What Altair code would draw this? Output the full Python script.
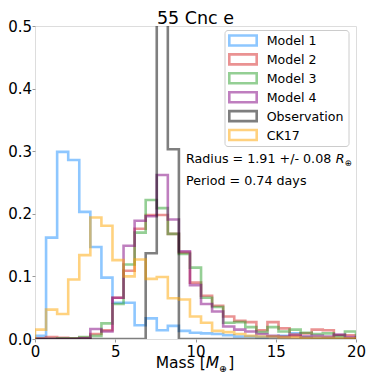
import numpy as np
import pandas as pd
import altair as alt

# ---- data (density per bin, 29 bins on 0..20) ----
bin_edges = list(np.linspace(0, 20, 30))

series_names = ["Model 1", "Model 2", "Model 3", "Model 4", "Observation", "CK17"]
series_colors = ["dodgerblue", "#d62728", "#2ca02c", "purple", "black", "orange"]

model1 = [0.005, 0.162, 0.299, 0.286, 0.203, 0.147, 0.098, 0.058, 0.058, 0.022,
          0.033, 0.014, 0.021, 0.013, 0.010, 0.009, 0.008, 0.006, 0.004, 0.004,
          0.003, 0.004, 0.005, 0.009, 0.003, 0.002, 0.002, 0.001, 0.001]
model2 = [0.001, 0.003, 0.002, 0.001, 0.002, 0.008, 0.014, 0.066, 0.109, 0.176,
          0.198, 0.198, 0.168, 0.138, 0.090, 0.069, 0.053, 0.036, 0.029, 0.027,
          0.014, 0.027, 0.017, 0.007, 0.009, 0.015, 0.014, 0.006, 0.006]
model3 = [0.000, 0.000, 0.001, 0.001, 0.003, 0.005, 0.025, 0.056, 0.119, 0.170,
          0.222, 0.209, 0.168, 0.136, 0.114, 0.066, 0.051, 0.026, 0.027, 0.019,
          0.011, 0.019, 0.012, 0.015, 0.010, 0.008, 0.009, 0.005, 0.012]
model4 = [0.000, 0.000, 0.000, 0.000, 0.001, 0.016, 0.012, 0.066, 0.149, 0.189,
          0.196, 0.262, 0.191, 0.140, 0.086, 0.056, 0.044, 0.020, 0.015, 0.012,
          0.008, 0.005, 0.004, 0.005, 0.004, 0.005, 0.004, 0.007, 0.003]
observation = [0.0, 0.0, 0.0, 0.0, 0.0, 0.0, 0.0, 0.0, 0.0, 0.0,
               0.137, 0.85, 0.303, 0.0, 0.0, 0.0, 0.0, 0.0, 0.0, 0.0,
               0.0, 0.0, 0.0, 0.0, 0.0, 0.0, 0.0, 0.0, 0.0]
ck17 = [0.015, 0.047, 0.040, 0.095, 0.134, 0.194, 0.181, 0.126, 0.100, 0.127,
        0.096, 0.099, 0.065, 0.063, 0.036, 0.026, 0.013, 0.011, 0.008, 0.005,
        0.004, 0.004, 0.003, 0.003, 0.002, 0.002, 0.002, 0.001, 0.001]

x_ticks = [0, 5, 10, 15, 20]
y_ticks = [0.0, 0.1, 0.2, 0.3, 0.4, 0.5]

title_text = "55 Cnc e"
radius_text = "Radius = 1.91 +/- 0.08 "
period_text = "Period = 0.74 days"
xlabel_text = "Mass ["

# ---- build step outlines (matplotlib histtype='step') ----
rows = []
for name, vals in zip(series_names, [model1, model2, model3, model4, observation, ck17]):
    xs = [bin_edges[0]] + bin_edges[:-1] + [bin_edges[-1], bin_edges[-1]]
    ys = [0.0] + vals + [vals[-1], 0.0]
    for i, (xv, yv) in enumerate(zip(xs, ys)):
        rows.append({"series": name, "mass": xv, "density": yv, "step": i})
df = pd.DataFrame(rows)

FONT = "DejaVu Sans"
W, H = 321, 313
OX, OY = 35, 26  # page position of the plot origin
color_scale = alt.Scale(domain=series_names, range=series_colors)

lines = alt.Chart(df).mark_line(interpolate="step-after", clip=True, strokeWidth=2.6).encode(
    x=alt.X("mass:Q", scale=alt.Scale(domain=[0, 20], nice=False),
            axis=alt.Axis(values=x_ticks, format="d", labelFontSize=15, labelFont=FONT,
                          labelColor="black", tickSize=3, tickColor="#999999",
                          tickWidth=1, domain=False, grid=False, labelPadding=2,
                          labelFlush=False, title=None)),
    y=alt.Y("density:Q", scale=alt.Scale(domain=[0, 0.5], nice=False),
            axis=alt.Axis(values=y_ticks, format=".1f", labelFontSize=15, labelFont=FONT,
                          labelColor="black", tickSize=3, tickColor="#999999",
                          tickWidth=1, domain=False, grid=False, labelPadding=0.5,
                          labelFlush=False, title=None)),
    color=alt.Color("series:N", scale=color_scale, legend=None),
    detail="series:N",
    order=alt.Order("step:Q"),
    opacity=alt.value(0.5),
)

# ---- legend (drawn from the series list) ----
LX0, LX1, LY0, LY1 = 190, 314, 4.5, 120.5
legend_df = pd.DataFrame({"series": series_names})
row_scale = alt.Scale(domain=series_names, range=[LY0 + 10, LY0 + 104.5], padding=0)

frame = alt.Chart(pd.DataFrame({"k": [0]})).mark_rect(
    cornerRadius=3, fill="white", fillOpacity=0.8, stroke="#cccccc", strokeWidth=1
).encode(x=alt.value(LX0), x2=alt.value(LX1), y=alt.value(LY0), y2=alt.value(LY1))

symbols = alt.Chart(legend_df).mark_point(
    shape="M-2.74,-1H2.74V1H-2.74Z", size=100, filled=False, strokeWidth=2.6, opacity=0.5
).encode(
    x=alt.value(LX0 + 18),
    y=alt.Y("series:N", scale=row_scale, axis=None),
    color=alt.Color("series:N", scale=color_scale, legend=None),
)

labels = alt.Chart(legend_df).mark_text(
    align="left", baseline="middle", fontSize=12.6, font=FONT, color="black", dy=0.5
).encode(
    x=alt.value(LX0 + 41.7),
    y=alt.Y("series:N", scale=row_scale, axis=None),
    text="series:N",
)


def txt(s, x, y, size, italic=False, align="left"):
    return alt.Chart(pd.DataFrame({"t": [s]})).mark_text(
        align=align, baseline="alphabetic", fontSize=size, font=FONT,
        fontStyle="italic" if italic else "normal", color="black"
    ).encode(x=alt.value(x), y=alt.value(y), text="t:N")


RX = 151
RY = 137.0
XL = 120.7
XB = H + 29  # baseline of the x-axis title
layers = [
    lines, frame, symbols, labels,
    txt(title_text, W / 2, -1.6, 17.5, align="center"),
    txt(radius_text, RX, RY, 12.7),
    txt("R", RX + 149.8, RY, 12.7, italic=True),
    txt("\u2295", RX + 158.6, RY + 3.3, 8.5),
    txt(period_text, RX, RY + 21.6, 12.7),
    txt(xlabel_text, XL, XB, 15.5),
    txt("M", XL + 50.0, XB, 15.5, italic=True),
    txt("\u2295", XL + 63.4, XB + 3.5, 9.5),
    txt("]", XL + 72.5, XB, 15.5),
]

chart = alt.layer(*layers).resolve_scale(y="independent").properties(
    width=W, height=H,
    padding={"left": OX - 8, "top": OY - 8, "right": 10, "bottom": 35},
    autosize=alt.AutoSizeParams(type="none"),
).configure_view(stroke="#b0b0b0", strokeWidth=1.5).configure(font=FONT)

chart.save("out.html", embed_options={"renderer": "svg", "actions": False})
